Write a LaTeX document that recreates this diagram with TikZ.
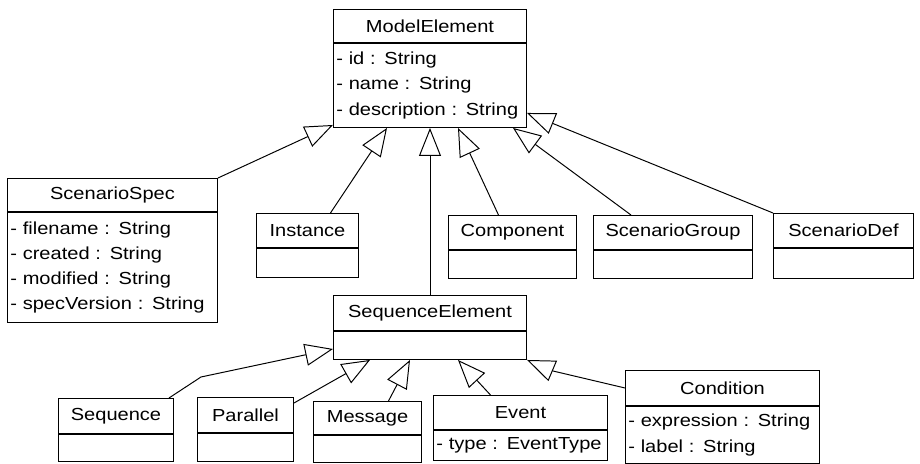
\documentclass[tikz,border=0pt]{standalone}
\usepackage{fontspec}
\setmainfont{Liberation Sans}[FakeStretch=1.15]
\usepackage{tikz}
\usetikzlibrary{arrows.meta, calc}
\newcommand{\px}{0.025cm}
% classe UML: nome, angolo, larghezza, altezza titolo, altezza corpo, titolo, attributi
\newcommand{\classe}[7]{%
\pgfmathsetmacro{\largo}{#3*0.025*28.45274-4}%
\node[titolo, minimum width=#3*\px, minimum height=#4*\px] (#1) at (#2) {#6};%
\node[corpo, minimum width=#3*\px, minimum height=#5*\px, text width=\largo pt] (#1-b) at (#1.south) {#7};%
}

\begin{document}
\begin{tikzpicture}[x=\px, y=-\px, line width=0.7pt,
    titolo/.style = {draw, anchor=north west, inner sep=0pt, font=\fontsize{12.4}{15}\selectfont},
    corpo/.style = {draw, anchor=north, inner xsep=2pt, inner ysep=0pt, align=left, font=\fontsize{12.4}{18}\selectfont},
    eredita/.style = {-{Triangle[open, length=0.7cm, width=0.55cm]}}]
    \useasboundingbox (0,0) rectangle (920,464);
    % classi
    \classe{me}{333,9}{193}{33}{84}{ModelElement}{- id : String\\- name : String\\- description : String}
    \classe{spec}{7,178}{210}{33}{110}{ScenarioSpec}{- filename : String\\- created : String\\- modified : String\\- specVersion : String}
    \classe{inst}{256,213}{102}{34}{29}{Instance}{}
    \classe{comp}{448,215}{128}{34}{28}{Component}{}
    \classe{grp}{593,215}{159}{34}{28}{ScenarioGroup}{}
    \classe{def}{773,213}{140}{34}{30}{ScenarioDef}{}
    \classe{seq}{333,295}{193}{35}{28}{SequenceElement}{}
    \classe{sq}{58,398}{115}{35}{27}{Sequence}{}
    \classe{par}{197,397}{96}{35}{28}{Parallel}{}
    \classe{msg}{313,401}{108}{33}{27}{Message}{}
    \classe{evt}{433,395}{174}{34}{30}{Event}{- type : EventType}
    \classe{cond}{625,370}{194}{35}{57}{Condition}{- expression : String\\- label : String}
    % generalizzazioni verso ModelElement
    \draw[eredita] (spec.north east) -- ($(me-b.south west)+(0,-3)$);
    \draw[eredita] ($(inst.north)+(23,0)$) -- ($(me-b.south west)+(54,0)$);
    \draw[eredita] (seq.north) -- (me-b.south);
    \draw[eredita] ($(comp.north)+(-14,0)$) -- ($(me-b.south west)+(125,0)$);
    \draw[eredita] ($(grp.north)+(-42,0)$) -- ($(me-b.south west)+(180,0)$);
    \draw[eredita] (def.north west) -- ($(me-b.south east)+(0,-15)$);
    % generalizzazioni verso SequenceElement
    \draw[eredita] ($(sq.north east)+(-5,0)$) -- ++(32,-21) -- ($(seq-b.south west)+(0,-11)$);
    \draw[eredita] ($(par.north east)+(0,6)$) -- ($(seq-b.south west)+(37,0)$);
    \draw[eredita] ($(msg.north)+(21,0)$) -- ($(seq-b.south west)+(77,0)$);
    \draw[eredita] ($(evt.north)+(-30,0)$) -- ($(seq-b.south west)+(125,0)$);
    \draw[eredita] ($(cond.north west)+(0,18)$) -- ++(-72,-17) -- (seq-b.south east);
\end{tikzpicture}
\end{document}
